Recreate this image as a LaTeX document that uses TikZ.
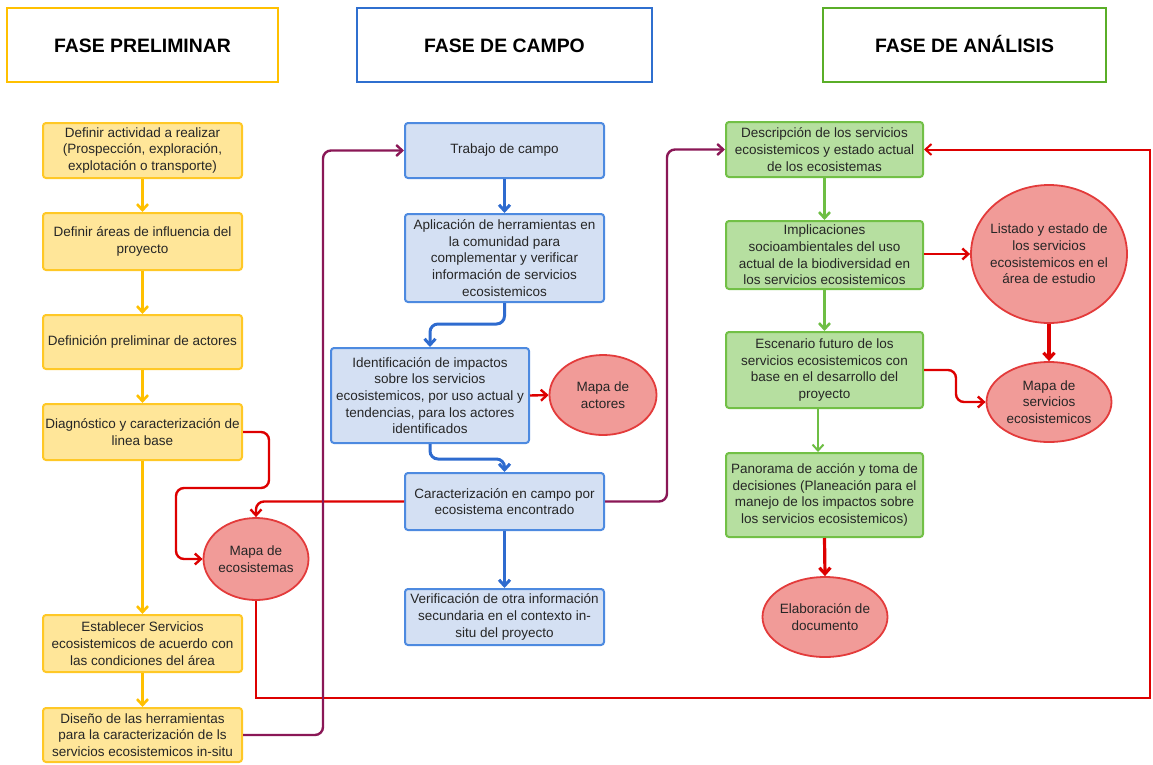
\documentclass[tikz,border=0pt]{standalone}
\usepackage{fontspec}
\setmainfont{Liberation Sans}
\usetikzlibrary{arrows.meta,shapes.geometric}
\definecolor{ylwline}{HTML}{FFC000}
\definecolor{ylwfill}{HTML}{FFE699}
\definecolor{ylwbord}{HTML}{FFC826}
\definecolor{bluefill}{HTML}{D4E0F3}
\definecolor{bluebord}{HTML}{4D8AE0}
\definecolor{blueline}{HTML}{2E6BCF}
\definecolor{bluehead}{HTML}{2F6FCF}
\definecolor{grnfill}{HTML}{B6DFA0}
\definecolor{grnbord}{HTML}{72C046}
\definecolor{grnline}{HTML}{6EBE44}
\definecolor{grnhead}{HTML}{5AAE28}
\definecolor{redfill}{HTML}{F19B98}
\definecolor{redbord}{HTML}{E33B3B}
\definecolor{redline}{HTML}{DD0000}
\definecolor{purpline}{HTML}{8A1756}
\definecolor{txt}{HTML}{262626}
\tikzset{
  every node/.style={font=\fontsize{13.5}{16.7}\selectfont, text=txt, align=center, inner sep=2pt},
  header/.style={draw, line width=2.5pt, fill=white, font=\fontsize{19.4}{22}\selectfont\bfseries, text=black, minimum height=74pt, text height=14pt, text depth=0pt},
  ybox/.style={draw=ylwbord, fill=ylwfill, line width=2pt, rounded corners=3pt, minimum width=199pt},
  bbox/.style={draw=bluebord, fill=bluefill, line width=2pt, rounded corners=3pt, minimum width=199pt},
  gbox/.style={draw=grnbord, fill=grnfill, line width=2pt, rounded corners=3pt, minimum width=197pt},
  rell/.style={ellipse, draw=redbord, fill=redfill, line width=1.8pt, inner ysep=0pt, inner xsep=-6pt},
  tip/.style={-{Straight Barb[length=6pt,width=11pt]}},
  yarr/.style={tip, draw=ylwline, line width=2.6pt},
  barr/.style={tip, draw=blueline, line width=3pt, rounded corners=8pt},
  garr/.style={tip, draw=grnline, line width=2.6pt},
  rarr/.style={tip, draw=redline, line width=2.4pt, rounded corners=8pt},
  rthick/.style={tip, draw=redline, line width=3.2pt},
  rthin/.style={tip, draw=redline, line width=2pt},
  parr/.style={tip, draw=purpline, line width=2.4pt, rounded corners=8pt}
}
\begin{document}
\begin{tikzpicture}[x=1pt,y=-1pt]
\useasboundingbox (0,0) rectangle (1153,764);
% headers
\node[header, draw=ylwline, minimum width=271pt] (h1) at (142.5,45) {FASE PRELIMINAR};
\node[header, draw=bluehead, minimum width=295pt] (h2) at (504.5,45) {FASE DE CAMPO};
\node[header, draw=grnhead, minimum width=283pt] (h3) at (964.5,45) {FASE DE ANÁLISIS};
% preliminary column
\node[ybox, minimum height=55pt] (b1) at (142.5,150.5) {Definir actividad a realizar\\(Prospección, exploración,\\explotación o transporte)};
\node[ybox, minimum height=57pt] (b2) at (142.5,241.5) {Definir áreas de influencia del\\proyecto};
\node[ybox, minimum height=54pt] (b3) at (142.5,342) {Definición preliminar de actores};
\node[ybox, minimum height=56pt] (b4) at (142.5,432) {Diagnóstico y caracterización de\\linea base};
\node[ybox, minimum height=57pt] (b5) at (142.5,643.5) {Establecer Servicios\\ecosistemicos de acuerdo con\\las condiciones del área};
\node[ybox, minimum height=54pt] (b6) at (142.5,735) {Diseño de las herramientas\\para la caracterización de ls\\servicios ecosistemicos in-situ};
\node[rell, minimum width=105pt, minimum height=82pt] (eco) at (256,559) {Mapa de\\ecosistemas};
% field column
\node[bbox, minimum height=55pt] (t1) at (504.5,150.5) {Trabajo de campo};
\node[bbox, minimum height=88pt] (t2) at (504.5,258) {Aplicación de herramientas en\\la comunidad para\\complementar y verificar\\información de servicios\\ecosistemicos};
\node[bbox, minimum width=198pt, minimum height=95pt] (t3) at (430,395.5) {Identificación de impactos\\sobre los servicios\\ecosistemicos, por uso actual y\\tendencias, para los actores\\identificados};
\node[rell, minimum width=107pt, minimum height=80pt] (act) at (603,395) {Mapa de\\actores};
\node[bbox, minimum height=57pt] (t4) at (504.5,501.5) {Caracterización en campo por\\ecosistema encontrado};
\node[bbox, minimum height=56pt] (t5) at (504.5,617) {Verificación de otra información\\secundaria en el contexto in-\\situ del proyecto};
% analysis column
\node[gbox, minimum height=55pt] (g1) at (824.5,149.5) {Descripción de los servicios\\ecosistemicos y estado actual\\de los ecosistemas};
\node[gbox, minimum height=68pt] (g2) at (824.5,255) {Implicaciones\\socioambientales del uso\\actual de la biodiversidad en\\los servicios ecosistemicos};
\node[gbox, minimum height=76pt] (g3) at (824.5,370) {Escenario futuro de los\\servicios ecosistemicos con\\base en el desarrollo del\\proyecto};
\node[gbox, minimum height=84pt] (g4) at (824.5,495) {Panorama de acción y toma de\\decisiones (Planeación para el\\manejo de los impactos sobre\\los servicios ecosistemicos)};
\node[rell, minimum width=125pt, minimum height=80pt] (elab) at (825,617) {Elaboración de\\documento};
\node[rell, inner xsep=-12pt, minimum width=156pt, minimum height=138pt] (list) at (1049,254) {Listado y estado de\\los servicios\\ecosistemicos en el\\área de estudio};
\node[rell, minimum width=125pt, minimum height=80pt] (mserv) at (1049,402) {Mapa de\\servicios\\ecosistemicos};
\coordinate (loop) at (1150,698);
% yellow arrows
\draw[yarr] (b1) -- (b2);
\draw[yarr] (b2) -- (b3);
\draw[yarr] (b3) -- (b4);
\draw[yarr] (b4) -- (b5);
\draw[yarr] (b5) -- (b6);
% blue arrows
\draw[barr] (t1) -- (t2);
\draw[barr] (t2.south) -- ++(0,21) -| (t3.north);
\draw[barr] (t3.south) -- ++(0,15) -| (t4.north);
\draw[barr] (t4) -- (t5);
% green arrows
\draw[garr] (g1) -- (g2);
\draw[garr] (g2) -- (g3);
\draw[garr, line width=2pt] ([xshift=-6.5pt]g3.south) -- ([xshift=-6.5pt]g4.north);
% red connectors
\draw[rarr] (b4.east) -- ++(26,0) |- (176,488) |- (eco.west);
\draw[rarr] (t4.west) -| (eco.north);
\draw[rthin] (eco.south) |- (loop) |- (g1.east);
\draw[rarr] (t3.east) -- (act.west);
\draw[rthick] (g4.south) -- (elab.north);
\draw[rarr] (g2.east |- list.west) -- (list.west);
\draw[rthick] (list.south) -- (mserv.north);
\draw[rarr] (g3.east) -- ++(32,0) |- (mserv.west);
% purple connectors
\draw[parr] (b6.east) -- ++(80,0) |- (t1.west);
\draw[parr] (t4.east) -- ++(62,0) |- (g1.west);
\end{tikzpicture}
\end{document}
